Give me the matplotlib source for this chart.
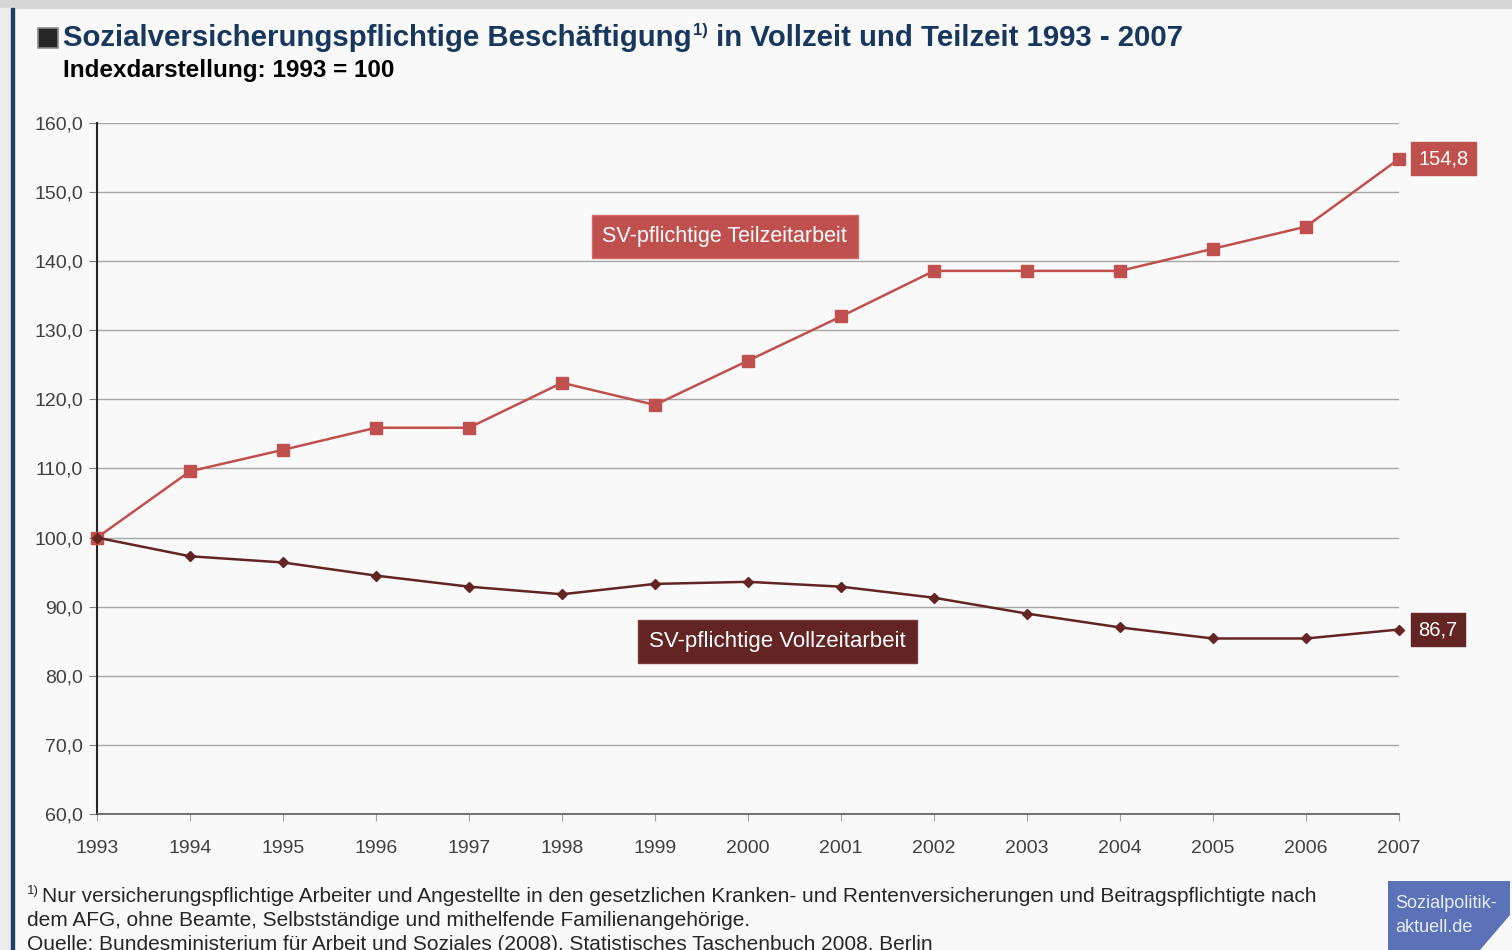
import matplotlib
matplotlib.use('Agg')
import matplotlib.pyplot as plt
from matplotlib.patches import Rectangle, Polygon
from matplotlib.ticker import FuncFormatter

plt.rcParams['font.family'] = ['Liberation Sans', 'DejaVu Sans']

years = [1993, 1994, 1995, 1996, 1997, 1998, 1999, 2000, 2001, 2002, 2003, 2004, 2005, 2006, 2007]
teilzeit = [100.0, 109.6, 112.7, 115.9, 115.9, 122.4, 119.2, 125.6, 132.0, 138.6, 138.6, 138.6, 141.8, 145.0, 154.8]
vollzeit = [100.0, 97.3, 96.4, 94.5, 92.9, 91.8, 93.3, 93.6, 92.9, 91.3, 89.0, 87.0, 85.4, 85.4, 86.7]

W, H = 1512, 950
red = '#C0504D'
dark = '#632523'
navy = '#17375E'

fig = plt.figure(figsize=(W/100, H/100), dpi=100)
fig.patch.set_facecolor('#F9F9F9')

# frame: grey band on top, blue line on left
fig.add_artist(Rectangle((0, 1-8/H), 1, 8/H, transform=fig.transFigure, color='#D6D6D6', zorder=0))
fig.add_artist(Rectangle((0, 0), 11/W, 1-8/H, transform=fig.transFigure, color='#EDEDED', zorder=0))
fig.add_artist(Rectangle((11/W, 0), 3/W, 1-8/H, transform=fig.transFigure, color='#1F3F6E', zorder=1))

ax = fig.add_axes([97/W, 1-814/H, (1399-97)/W, (814-123)/H])
ax.set_facecolor('none')
ax.set_xlim(1993, 2007)
ax.set_ylim(60, 160)
ax.set_yticks(range(60, 161, 10))
ax.set_xticks(years)
ax.yaxis.set_major_formatter(FuncFormatter(lambda v, p: ('%.1f' % v).replace('.', ',')))
ax.grid(axis='y', color='#A6A6A6', lw=1)
ax.set_axisbelow(True)
for s in ['top', 'right']:
    ax.spines[s].set_visible(False)
ax.spines['left'].set_color('#262626')
ax.spines['left'].set_linewidth(1.5)
ax.spines['bottom'].set_color('#595959')
ax.spines['bottom'].set_linewidth(1.2)
ax.tick_params(axis='y', length=6, color='#808080', labelsize=14, labelcolor='#404040', pad=4)
ax.tick_params(axis='x', length=5, color='#A0A0A0', labelsize=14, labelcolor='#404040', pad=14)

ax.plot(years, teilzeit, color=red, lw=1.8, marker='s', ms=8, clip_on=False, zorder=3)
ax.plot(years, vollzeit, color=dark, lw=1.8, marker='D', ms=5.5, clip_on=False, zorder=3)

ax.text(1999.75, 143.6, 'SV-pflichtige Teilzeitarbeit', ha='center', va='center', fontsize=15.5,
        color='white', bbox=dict(boxstyle='square,pad=0.5', fc=red, ec='#D46A66'))
ax.text(2000.32, 84.95, 'SV-pflichtige Vollzeitarbeit', ha='center', va='center', fontsize=16,
        color='white', bbox=dict(boxstyle='square,pad=0.5', fc=dark, ec='#7a3a38'))

ax.annotate(('%.1f' % teilzeit[-1]).replace('.', ','), (years[-1], teilzeit[-1]), xytext=(14, 0),
            textcoords='offset points', ha='left', va='center', fontsize=14.5, color='white',
            bbox=dict(boxstyle='square,pad=0.35', fc=red, ec=red))
ax.annotate(('%.1f' % vollzeit[-1]).replace('.', ','), (years[-1], vollzeit[-1]), xytext=(14, 0),
            textcoords='offset points', ha='left', va='center', fontsize=14.5, color='white',
            bbox=dict(boxstyle='square,pad=0.35', fc=dark, ec=dark))

# title
fig.add_artist(Rectangle((38/W, 1-48/H), 20/W, 20/H, transform=fig.transFigure,
                         fc='#262626', ec='#8C8C8C', lw=1.2))
r = fig.canvas.get_renderer()
t1 = fig.text(63/W, 1-38/H, 'Sozialversicherungspflichtige Beschäftigung', fontsize=21.15,
              fontweight='bold', color=navy, va='center')
bb = t1.get_window_extent(r)
t2 = fig.text(bb.x1/W + 1/W, 1-30/H, '1)', fontsize=12, fontweight='bold', color=navy, va='center')
bb2 = t2.get_window_extent(r)
fig.text(bb2.x1/W, 1-38/H, ' in Vollzeit und Teilzeit 1993 - 2007', fontsize=21.15,
         fontweight='bold', color=navy, va='center')
fig.text(63/W, 1-70/H, 'Indexdarstellung: 1993 = 100', fontsize=17.5, fontweight='bold',
         color='black', va='center')

# footnote (last line is cut at the bottom edge, as in the original)
fig.text(27/W, 1-891/H, '1)', fontsize=9.5, color='#262626', va='center')
fig.text(42/W, 1-896/H, 'Nur versicherungspflichtige Arbeiter und Angestellte in den gesetzlichen Kranken- und '
         'Rentenversicherungen und Beitragspflichtigte nach', fontsize=15, color='#262626', va='center')
fig.text(27/W, 1-920/H, 'dem AFG, ohne Beamte, Selbstständige und mithelfende Familienangehörige.',
         fontsize=15, color='#262626', va='center')
fig.text(27/W, 1-944/H, 'Quelle: Bundesministerium für Arbeit und Soziales (2008), Statistisches Taschenbuch 2008, Berlin',
         fontsize=15, color='#262626', va='center')

# logo
pts = [(1388, 881), (1510, 881), (1510, 915), (1480, 950), (1388, 950)]
fig.add_artist(Polygon([(x/W, 1-y/H) for x, y in pts], closed=True, transform=fig.transFigure,
                       fc='#5B72B8', ec='none'))
fig.text(1395/W, 1-904/H, 'Sozialpolitik-', fontsize=13, color='#E8ECF8', va='center')
fig.text(1395/W, 1-928/H, 'aktuell.de', fontsize=13, color='#E8ECF8', va='center')

fig.savefig('out.png', dpi=100, facecolor=fig.get_facecolor())
